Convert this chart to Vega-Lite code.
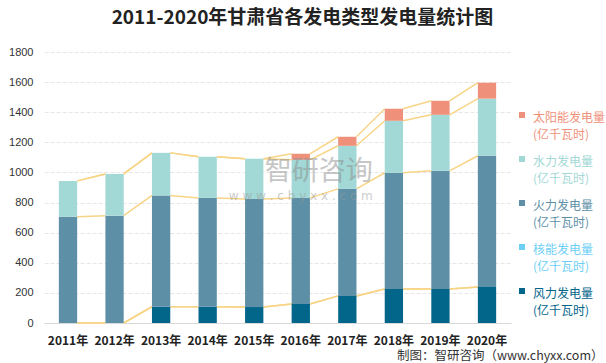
{
 "$schema": "https://vega.github.io/schema/vega-lite/v6.json",
 "width": 467,
 "height": 271,
 "autosize": "none",
 "padding": {"left": 44, "top": 52, "right": 95, "bottom": 40},
 "background": "white",
 "title": {"text": "2011-2020年甘肃省各发电类型发电量统计图", "font": "Noto Sans CJK SC", "fontSize": 19, "fontWeight": "bold", "color": "#222222", "anchor": "middle", "dx": 25, "offset": 18},
 "data": {"values": [
  {"year": "2011年", "type": "风力发电量", "value": 0},
  {"year": "2011年", "type": "核能发电量", "value": 0},
  {"year": "2011年", "type": "火力发电量", "value": 705},
  {"year": "2011年", "type": "水力发电量", "value": 239},
  {"year": "2011年", "type": "太阳能发电量", "value": 0},
  {"year": "2012年", "type": "风力发电量", "value": 0},
  {"year": "2012年", "type": "核能发电量", "value": 0},
  {"year": "2012年", "type": "火力发电量", "value": 713},
  {"year": "2012年", "type": "水力发电量", "value": 277},
  {"year": "2012年", "type": "太阳能发电量", "value": 0},
  {"year": "2013年", "type": "风力发电量", "value": 108},
  {"year": "2013年", "type": "核能发电量", "value": 0},
  {"year": "2013年", "type": "火力发电量", "value": 739},
  {"year": "2013年", "type": "水力发电量", "value": 283},
  {"year": "2013年", "type": "太阳能发电量", "value": 0},
  {"year": "2014年", "type": "风力发电量", "value": 108},
  {"year": "2014年", "type": "核能发电量", "value": 0},
  {"year": "2014年", "type": "火力发电量", "value": 723},
  {"year": "2014年", "type": "水力发电量", "value": 273},
  {"year": "2014年", "type": "太阳能发电量", "value": 0},
  {"year": "2015年", "type": "风力发电量", "value": 106},
  {"year": "2015年", "type": "核能发电量", "value": 0},
  {"year": "2015年", "type": "火力发电量", "value": 718},
  {"year": "2015年", "type": "水力发电量", "value": 267},
  {"year": "2015年", "type": "太阳能发电量", "value": 0},
  {"year": "2016年", "type": "风力发电量", "value": 126},
  {"year": "2016年", "type": "核能发电量", "value": 0},
  {"year": "2016年", "type": "火力发电量", "value": 705},
  {"year": "2016年", "type": "水力发电量", "value": 253},
  {"year": "2016年", "type": "太阳能发电量", "value": 40},
  {"year": "2017年", "type": "风力发电量", "value": 180},
  {"year": "2017年", "type": "核能发电量", "value": 0},
  {"year": "2017年", "type": "火力发电量", "value": 711},
  {"year": "2017年", "type": "水力发电量", "value": 286},
  {"year": "2017年", "type": "太阳能发电量", "value": 60},
  {"year": "2018年", "type": "风力发电量", "value": 226},
  {"year": "2018年", "type": "核能发电量", "value": 0},
  {"year": "2018年", "type": "火力发电量", "value": 772},
  {"year": "2018年", "type": "水力发电量", "value": 345},
  {"year": "2018年", "type": "太阳能发电量", "value": 80},
  {"year": "2019年", "type": "风力发电量", "value": 226},
  {"year": "2019年", "type": "核能发电量", "value": 0},
  {"year": "2019年", "type": "火力发电量", "value": 785},
  {"year": "2019年", "type": "水力发电量", "value": 372},
  {"year": "2019年", "type": "太阳能发电量", "value": 93},
  {"year": "2020年", "type": "风力发电量", "value": 239},
  {"year": "2020年", "type": "核能发电量", "value": 0},
  {"year": "2020年", "type": "火力发电量", "value": 872},
  {"year": "2020年", "type": "水力发电量", "value": 379},
  {"year": "2020年", "type": "太阳能发电量", "value": 106}
 ]},
 "transform": [
  {"calculate": "indexof(['风力发电量','核能发电量','火力发电量','水力发电量','太阳能发电量'], datum.type)", "as": "ord"}
 ],
 "layer": [
  {
   "transform": [
    {"stack": "value", "groupby": ["year"], "sort": [{"field": "ord"}], "as": ["v0", "v1"]},
    {"window": [{"op": "lead", "field": "year", "as": "nextYear"}, {"op": "lead", "field": "v1", "as": "nextV1"}], "groupby": ["type"], "sort": [{"field": "year"}]},
    {"filter": "datum.nextYear != null"}
   ],
   "mark": {"type": "rule", "color": "#f8d486", "strokeWidth": 1.5},
   "encoding": {
    "x": {"field": "year", "type": "nominal", "bandPosition": 1},
    "x2": {"field": "nextYear", "bandPosition": 0},
    "y": {"field": "v1", "type": "quantitative", "scale": {"domain": [0, 1800], "nice": false}},
    "y2": {"field": "nextV1"}
   }
  },
  {
   "mark": {"type": "bar"},
   "encoding": {
    "x": {"field": "year", "type": "nominal", "sort": null,
     "scale": {"paddingInner": 0.607, "paddingOuter": 0.319},
     "axis": {"title": "制图：智研咨询（www.chyxx.com）", "titleFont": "Noto Sans CJK SC", "titleFontSize": 12.5, "titleFontWeight": "normal", "titleColor": "#333333", "titleAnchor": "end", "titleAlign": "right", "titleBaseline": "middle", "titleX": 559, "titleY": 32,
      "labelAngle": 0, "labelAlign": "center", "labelBaseline": "middle", "labelFont": "Noto Sans CJK SC", "labelFontSize": 12, "labelFontWeight": "bold", "labelColor": "#222222", "labelPadding": 17, "ticks": false, "domainColor": "#d9d9d9", "grid": false}},
    "y": {"field": "value", "type": "quantitative", "stack": "zero",
     "scale": {"domain": [0, 1800], "nice": false},
     "axis": {"title": null, "values": [0, 200, 400, 600, 800, 1000, 1200, 1400, 1600, 1800], "tickCount": 12, "format": "d"}},
    "color": {"field": "type", "type": "nominal",
     "scale": {"domain": ["太阳能发电量", "水力发电量", "火力发电量", "核能发电量", "风力发电量"], "range": ["#ef917a", "#a2d8d5", "#5d90a7", "#6dcff6", "#02658a"]},
     "legend": {"orient": "none", "legendX": 472, "legendY": 57, "title": null, "symbolType": "square", "symbolSize": 36, "symbolStrokeWidth": 0, "labelFont": "Noto Sans CJK SC", "labelFontSize": 12, "labelExpr": "[datum.label, '(亿千瓦时)']", "rowPadding": 12, "labelOffset": 5, "labelLimit": 0, "padding": 0,
      "encode": {"labels": {"update": {"fill": {"scale": "color", "field": "value"}, "lineHeight": {"value": 17}, "dy": {"value": 3}}}}}},
    "order": {"field": "ord", "type": "quantitative"}
   }
  },
  {
   "data": {"values": [{"t": "智研咨询"}]},
   "mark": {"type": "text", "font": "Noto Sans CJK SC", "fontSize": 27, "color": "#8f8f8f", "opacity": 0.5, "dx": 18, "align": "center", "baseline": "middle"},
   "encoding": {"text": {"field": "t"}, "x": {"datum": "2016年"}, "y": {"datum": 1005}}
  },
  {
   "data": {"values": [{"t": "w w w . c h y x x . c o m"}]},
   "mark": {"type": "text", "font": "DejaVu Sans", "fontSize": 12, "color": "#9a9a9a", "opacity": 0.5, "align": "center", "baseline": "middle"},
   "encoding": {"text": {"field": "t"}, "x": {"datum": "2016年"}, "y": {"datum": 845}}
  }
 ],
 "config": {
  "view": {"stroke": null},
  "axisY": {"labelOverlap": false, "domain": false, "ticks": false, "labelFont": "Liberation Sans", "labelFontSize": 11, "labelColor": "#333333", "labelPadding": 11, "gridColor": "#e6e6e6", "gridDash": [4, 2]}
 }
}
